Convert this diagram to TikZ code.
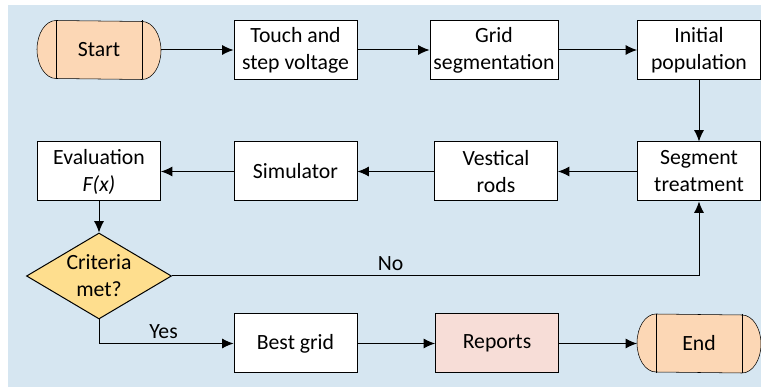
\documentclass[tikz,border=0pt]{standalone}
\usepackage{fontspec}
\setmainfont{Carlito}
\usetikzlibrary{positioning,calc,shapes.geometric,arrows.meta,backgrounds}

\definecolor{bgblue}{RGB}{214,230,241}
\definecolor{termorange}{RGB}{252,215,181}
\definecolor{reppink}{RGB}{247,221,215}
\definecolor{critgold}{RGB}{254,222,142}

\tikzset{
  box/.style={draw,fill=white,minimum width=92.25pt,minimum height=44.25pt,
    align=center,inner sep=2pt},
  term/.style={minimum width=92.25pt,minimum height=43.5pt,inner sep=2pt},
  crit/.style={diamond,draw,fill=critgold,aspect=1.69,minimum width=108.75pt,
    minimum height=64.5pt,inner sep=0pt,align=center},
  flow/.style={->,>={Latex[length=8.5pt,width=7.5pt]}}
}

% rounded ends of a start/end node
\newcommand{\termcap}[1]{%
  \draw[fill=termorange] ($(#1.north west)+(19,0)$)
    arc[start angle=90,end angle=270,x radius=14.25pt,y radius=21.75pt]
    -- ($(#1.south east)+(-19,0)$)
    arc[start angle=-90,end angle=90,x radius=14.25pt,y radius=21.75pt]
    -- cycle;
  \draw ($(#1.north west)+(19,0)$) -- ($(#1.south west)+(19,0)$);
  \draw ($(#1.north east)+(-19,0)$) -- ($(#1.south east)+(-19,0)$);}

\begin{document}
\begin{tikzpicture}[x=0.75pt,y=-0.75pt,line width=0.75pt,
    every node/.style={font=\fontsize{16.3pt}{20.25pt}\selectfont}]
  \useasboundingbox (0,0) rectangle (761,391);

  % top row
  \node[term] (start) at (99,50) {Start};
  \node[box] (touch) at (295.5,50) {Touch and\\step voltage};
  \node[box,minimum width=96pt] (grid) at (494,50) {Grid\\segmentation};
  \node[box] (init) at (699,50) {Initial\\population};

  % middle row
  \node[box] (seg) at (699,171.5) {Segment\\treatment};
  \node[box] (rods) at (496,171.5) {Vestical\\rods};
  \node[box] (sim) at (295.5,171.5) {Simulator};
  \node[box] (eval) at (99,171.5) {Evaluation\\\textit{F(x)}};

  \node[crit] (crit) at (99,276) {Criteria\\met?};

  % bottom row
  \node[box] (best) at (295.5,343.5) {Best grid};
  \node[box,fill=reppink] (rep) at (497,343.5) {Reports};
  \node[term] (end) at (699,343.5) {End};

  \begin{scope}[on background layer]
    \fill[bgblue] (8,5) rectangle (770,387);
    \termcap{start}
    \termcap{end}
  \end{scope}

  \draw[flow] (start) -- (touch);
  \draw[flow] (touch) -- (grid);
  \draw[flow] (grid) -- (init);
  \draw[flow] (init) -- (seg);
  \draw[flow] (seg) -- (rods);
  \draw[flow] (rods) -- (sim);
  \draw[flow] (sim) -- (eval);
  \draw[flow] (eval) -- (crit);
  \draw[flow] (crit.east) -- node[above,pos=0.415]{No} (crit.east -| seg.south) -- (seg.south);
  \draw[flow] (crit.south) |- node[above,pos=0.74]{Yes} (best.west);
  \draw[flow] (best) -- (rep);
  \draw[flow] (rep) -- (end);
\end{tikzpicture}
\end{document}
